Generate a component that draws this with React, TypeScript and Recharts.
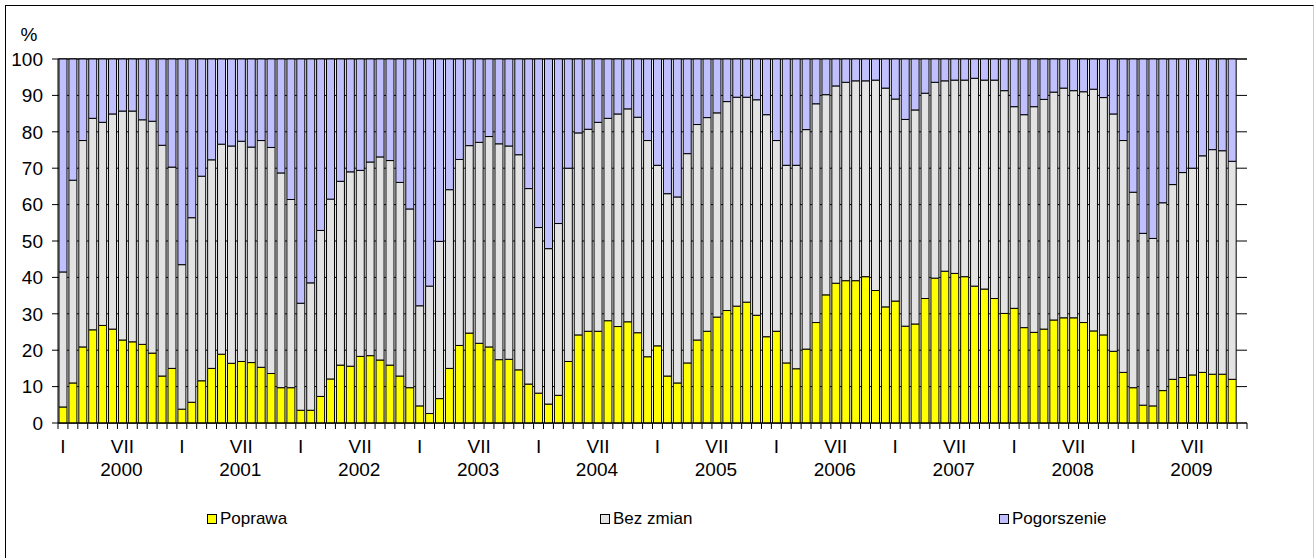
import { Bar, BarChart, CartesianGrid, Legend, XAxis, YAxis } from 'recharts'

const months = ['I', 'II', 'III', 'IV', 'V', 'VI', 'VII', 'VIII', 'IX', 'X', 'XI', 'XII']
const years = [2000, 2001, 2002, 2003, 2004, 2005, 2006, 2007, 2008, 2009]
const yTicks = [0, 10, 20, 30, 40, 50, 60, 70, 80, 90, 100]
const seriesNames = ['Poprawa', 'Bez zmian', 'Pogorszenie']

// monthly shares, Jan 2000 .. Nov 2009
const poprawa = [
  4.4, 11.0, 20.9, 25.6, 26.8, 25.8, 22.8, 22.3, 21.6, 19.2, 12.9, 15.0,
  3.8, 5.7, 11.6, 15.0, 18.9, 16.4, 16.9, 16.6, 15.3, 13.6, 9.7, 9.7,
  3.5, 3.5, 7.3, 12.1, 15.9, 15.6, 18.3, 18.5, 17.3, 15.9, 12.9, 9.7,
  4.7, 2.6, 6.7, 15.0, 21.3, 24.7, 21.9, 20.9, 17.4, 17.5, 14.6, 10.7,
  8.2, 5.2, 7.6, 16.9, 24.2, 25.2, 25.2, 28.1, 26.5, 27.8, 24.8, 18.2,
  21.2, 12.9, 11.0, 16.5, 22.8, 25.2, 29.1, 30.9, 32.1, 33.2, 29.6, 23.7,
  25.2, 16.5, 14.9, 20.3, 27.6, 35.2, 38.4, 39.1, 39.1, 40.2, 36.4, 31.9,
  33.5, 26.6, 27.2, 34.2, 39.8, 41.7, 41.1, 40.2, 37.6, 36.8, 34.2, 30.1,
  31.5, 26.2, 24.9, 25.8, 28.3, 28.9, 28.9, 27.6, 25.3, 24.2, 19.7, 13.9,
  9.7, 4.9, 4.7, 8.9, 12.0, 12.5, 13.2, 13.9, 13.4, 13.4, 12.0,
]

const bezZmian = [
  37.1, 55.7, 56.7, 58.1, 55.8, 59.1, 62.9, 63.4, 61.7, 63.7, 63.4, 55.3,
  39.7, 50.7, 56.2, 57.3, 57.7, 59.7, 60.5, 59.2, 62.3, 62.1, 59.0, 51.7,
  29.4, 35.0, 45.6, 49.4, 50.5, 53.4, 51.1, 53.2, 55.8, 56.2, 53.2, 49.1,
  27.5, 35.0, 43.2, 49.1, 51.1, 51.5, 55.2, 57.8, 59.3, 58.6, 59.1, 53.7,
  45.5, 42.7, 47.2, 53.1, 55.5, 55.5, 57.4, 55.6, 58.4, 58.5, 59.2, 59.4,
  49.6, 50.1, 51.1, 57.5, 59.2, 58.7, 56.1, 57.4, 57.4, 56.3, 59.2, 61.0,
  52.4, 54.3, 55.9, 60.3, 60.1, 55.0, 54.2, 54.5, 54.9, 53.8, 57.8, 60.1,
  55.5, 56.8, 58.8, 56.4, 53.8, 52.3, 53.1, 54.0, 57.1, 57.4, 60.0, 61.2,
  55.4, 58.5, 62.0, 63.1, 62.6, 63.1, 62.4, 63.4, 66.4, 65.2, 65.2, 63.7,
  53.7, 47.2, 46.0, 51.6, 53.5, 56.3, 56.8, 59.5, 61.7, 61.4, 59.9,
]

const pogorszenie = [
  58.5, 33.3, 22.4, 16.3, 17.4, 15.1, 14.3, 14.3, 16.7, 17.1, 23.7, 29.7,
  56.5, 43.6, 32.2, 27.7, 23.4, 23.9, 22.6, 24.2, 22.4, 24.3, 31.3, 38.6,
  67.1, 61.5, 47.1, 38.5, 33.6, 31.0, 30.6, 28.3, 26.9, 27.9, 33.9, 41.2,
  67.8, 62.4, 50.1, 35.9, 27.6, 23.8, 22.9, 21.3, 23.3, 23.9, 26.3, 35.6,
  46.3, 52.1, 45.2, 30.0, 20.3, 19.3, 17.4, 16.3, 15.1, 13.7, 16.0, 22.4,
  29.2, 37.0, 37.9, 26.0, 18.0, 16.1, 14.8, 11.7, 10.5, 10.5, 11.2, 15.3,
  22.4, 29.2, 29.2, 19.4, 12.3, 9.8, 7.4, 6.4, 6.0, 6.0, 5.8, 8.0,
  11.0, 16.6, 14.0, 9.4, 6.4, 6.0, 5.8, 5.8, 5.3, 5.8, 5.8, 8.7,
  13.1, 15.3, 13.1, 11.1, 9.1, 8.0, 8.7, 9.0, 8.3, 10.6, 15.1, 22.4,
  36.6, 47.9, 49.3, 39.5, 34.5, 31.2, 30.0, 26.6, 24.9, 25.2, 28.1,
]

const data = years.flatMap((year, yi) =>
  months.map((month, mi) => {
    const i = yi * 12 + mi
    return {
      key: `${year}-${mi + 1}`,
      month,
      year,
      poprawa: poprawa[i],
      bezZmian: bezZmian[i],
      pogorszenie: pogorszenie[i],
    }
  }),
)

const FONT = '"Liberation Sans", Arial, sans-serif'
const AXIS_FONT_SIZE = 19
const legendLeft = [207, 600, 999]

function MonthTick(props: any) {
  const { x, y, payload, index, width } = props
  const half = payload?.offset ?? (width ? width / data.length / 2 : 5)
  const d = data[index]
  const last = index === data.length - 1
  return (
    <g>
      <line x1={x - half} x2={x - half} y1={y - 6} y2={y} stroke="#000" />
      {last && <line x1={x + half} x2={x + half} y1={y - 6} y2={y} stroke="#000" />}
      {(d.month === 'I' || d.month === 'VII') && (
        <text x={x} y={y + 24} textAnchor="middle" fontSize={AXIS_FONT_SIZE} fill="#000" fontFamily={FONT}>
          {d.month}
        </text>
      )}
      {d.month === 'VII' && (
        <text x={x - 1} y={y + 47} textAnchor="middle" fontSize={AXIS_FONT_SIZE} fill="#000" fontFamily={FONT}>
          {d.year}
        </text>
      )}
    </g>
  )
}

function LegendBox(props: any) {
  const items = [...(props.payload || [])].sort(
    (a: any, b: any) => seriesNames.indexOf(a.value) - seriesNames.indexOf(b.value),
  )
  return (
    <div style={{ position: 'relative', height: 0 }}>
      {items.map((item: any, i: number) => (
        <div
          key={item.value}
          style={{
            position: 'absolute',
            left: legendLeft[i],
            top: 0,
            display: 'flex',
            alignItems: 'center',
            fontFamily: FONT,
            fontSize: 17,
            color: '#000',
            whiteSpace: 'nowrap',
          }}
        >
          <span
            style={{
              display: 'inline-block',
              width: 8,
              height: 8,
              background: item.color,
              border: '1px solid #000',
              marginRight: 3,
            }}
          />
          {item.value}
        </div>
      ))}
    </div>
  )
}

export default function App() {
  return (
    <div style={{ position: 'relative', width: 1315, height: 558, overflow: 'hidden', background: '#fff' }}>
      <style>{'body{margin:0}'}</style>
      <div
        style={{
          position: 'absolute',
          left: 5,
          top: 5,
          width: 1307,
          height: 600,
          borderLeft: '1px solid #000',
          borderTop: '1px solid #000',
          borderRight: '1px solid #ccc',
        }}
      />
      <div style={{ position: 'absolute', left: 0, top: 0 }}>
        <BarChart
          width={1315}
          height={558}
          data={data}
          barCategoryGap={1}
          margin={{ top: 59, right: 68, left: 0, bottom: 0 }}
        >
          <CartesianGrid stroke="#000" vertical={false} />
          <XAxis
            dataKey="key"
            interval={0}
            height={135}
            tickSize={6}
            tickMargin={0}
            tickLine={false}
            axisLine={{ stroke: '#000' }}
            tick={<MonthTick />}
          />
          <YAxis
            type="number"
            domain={[0, 100]}
            ticks={yTicks}
            interval={0}
            width={58}
            tickSize={6}
            tickMargin={9}
            axisLine={{ stroke: '#000' }}
            tickLine={{ stroke: '#000' }}
            tick={{ fill: '#000', fontSize: AXIS_FONT_SIZE, fontFamily: FONT }}
            label={{ value: '%', position: 'top', offset: 18, fill: '#000', fontSize: AXIS_FONT_SIZE, fontFamily: FONT }}
          />
          <YAxis
            yAxisId="right"
            orientation="right"
            type="number"
            domain={[0, 100]}
            width={0}
            tick={false}
            tickLine={false}
            axisLine={{ stroke: '#000' }}
          />
          <Legend
            verticalAlign="bottom"
            content={<LegendBox />}
            wrapperStyle={{ position: 'absolute', left: 0, top: 509, width: 1315, height: 0 }}
          />
          <Bar dataKey="poprawa" name="Poprawa" stackId="a" fill="#FFFF00" stroke="#000" strokeWidth={1} isAnimationActive={false} />
          <Bar dataKey="bezZmian" name="Bez zmian" stackId="a" fill="#E3E3E3" stroke="#000" strokeWidth={1} isAnimationActive={false} />
          <Bar dataKey="pogorszenie" name="Pogorszenie" stackId="a" fill="#C0C0FF" stroke="#000" strokeWidth={1} isAnimationActive={false} />
        </BarChart>
      </div>
    </div>
  )
}
